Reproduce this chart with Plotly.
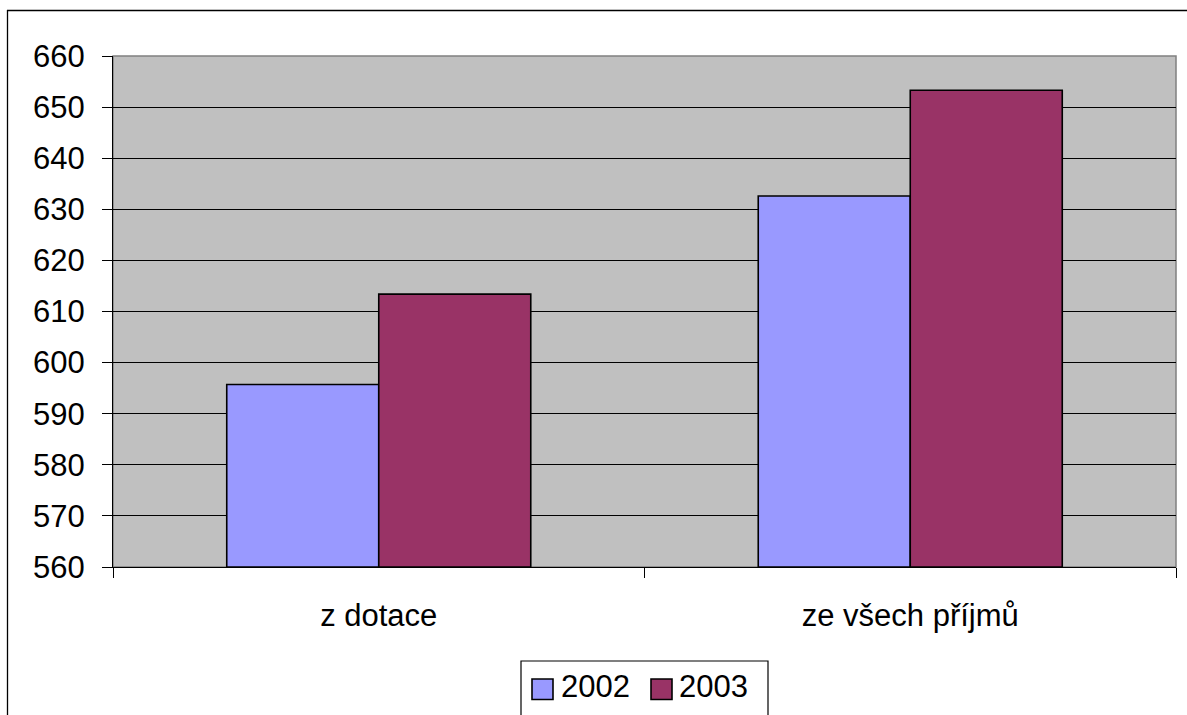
import plotly.graph_objects as go

categories = ["z dotace", "ze všech příjmů"]
series_names = ["2002", "2003"]
values_2002 = [595.7, 632.6]
values_2003 = [613.4, 653.3]
colors = ["#9999FF", "#993366"]
y_ticks = list(range(560, 661, 10))
y_base = 560

FONT = "Liberation Sans, Arial, sans-serif"

fig = go.Figure()
for name, vals, col in zip(series_names, [values_2002, values_2003], colors):
    fig.add_trace(go.Bar(
        x=categories, y=[v - y_base for v in vals], base=y_base, name=name,
        marker=dict(color=col, line=dict(color="black", width=1.6)),
        showlegend=False,
    ))

L, R, T, B = 113, 11, 56, 148
W, H = 1187, 715
pw, ph = W - L - R, H - T - B

def px(xpix):
    return (xpix - L) / pw

def py(ypix):
    return (H - B - ypix) / ph

shapes = [
    # plot-area border
    dict(type="rect", xref="paper", yref="paper", x0=0, x1=1, y0=0, y1=1,
         line=dict(color="#808080", width=1.5), layer="below"),
    # outer chart frame (top and left edges visible)
    dict(type="line", xref="paper", yref="paper", x0=px(7), x1=px(1200),
         y0=py(10.5), y1=py(10.5), line=dict(color="black", width=1.3)),
    dict(type="line", xref="paper", yref="paper", x0=px(7.5), x1=px(7.5),
         y0=py(10), y1=py(730), line=dict(color="black", width=1.3)),
    # legend box
    dict(type="rect", xref="paper", yref="paper", x0=px(521), x1=px(768),
         y0=py(661), y1=py(730), line=dict(color="black", width=1.2),
         fillcolor="white"),
]
annotations = []
# legend entries built from the series
swatch_x = [532, 651]
text_x = [559, 677]
for name, col, sx, tx in zip(series_names, colors, swatch_x, text_x):
    shapes.append(dict(type="rect", xref="paper", yref="paper",
                       x0=px(sx), x1=px(sx + 21), y0=py(679), y1=py(699.5),
                       line=dict(color="black", width=1.6), fillcolor=col))
    annotations.append(dict(text=name, xref="paper", yref="paper",
                            x=px(tx), y=py(686), xanchor="left", yanchor="middle",
                            showarrow=False,
                            font=dict(family=FONT, size=31, color="black")))

fig.update_layout(
    width=W, height=H,
    margin=dict(l=L, r=R, t=T, b=B, pad=0),
    paper_bgcolor="white",
    plot_bgcolor="#C0C0C0",
    barmode="group",
    bargap=0.428,
    bargroupgap=0,
    font=dict(family=FONT, size=31, color="black"),
    showlegend=False,
    shapes=shapes,
    annotations=annotations,
)

fig.update_yaxes(
    range=[560, 660], tickvals=y_ticks, ticktext=[str(t) for t in y_ticks],
    showgrid=True, gridcolor="black", gridwidth=1,
    showline=True, linecolor="black", linewidth=1.2,
    ticks="outside", ticklen=10, tickcolor="black", tickwidth=1,
    ticklabelstandoff=11, zeroline=False,
    tickfont=dict(family=FONT, size=31, color="black"),
)
fig.update_xaxes(
    showgrid=False, showline=True, linecolor="black", linewidth=1.2,
    ticks="outside", ticklen=10, tickcolor="black", tickwidth=1,
    tickson="boundaries", ticklabelstandoff=21,
    tickfont=dict(family=FONT, size=31, color="black"),
)

fig.write_html(
    "out.html",
    config={"displayModeBar": False},
    post_script="document.body.style.margin='0px';document.body.style.overflow='hidden';",
)
